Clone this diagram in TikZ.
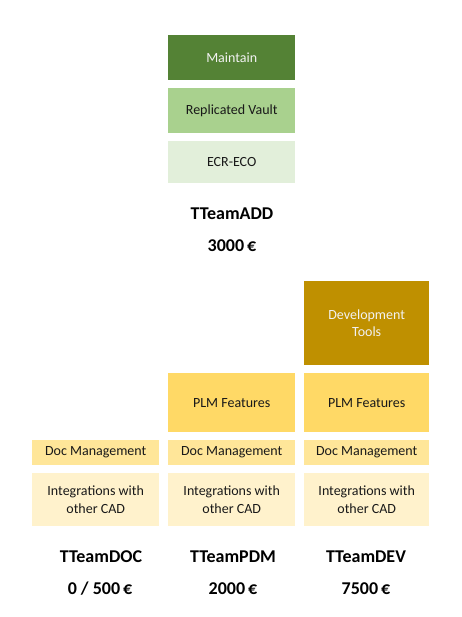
\documentclass[tikz,border=0pt]{standalone}
\usepackage{fontspec}
\setmainfont{Carlito}
\usepackage{xcolor}
\usetikzlibrary{positioning}

\definecolor{darkgreen}{HTML}{548235}
\definecolor{midgreen}{HTML}{A9D18E}
\definecolor{palegreen}{HTML}{E2EFDA}
\definecolor{darkgold}{HTML}{BF9000}
\definecolor{gold}{HTML}{FFD966}
\definecolor{lightgold}{HTML}{FFE699}
\definecolor{palegold}{HTML}{FFF2CC}

\begin{document}
\begin{tikzpicture}[x=1pt,y=-1pt]
\tikzset{
	feature/.style = {anchor = north west, inner sep = 0, minimum width = 127pt, align = center,
		font = \fontsize{14}{17.5}\selectfont, text = black!90},
	dark feature/.style = {feature, text = white!95!black},
	team label/.style = {font = \fontsize{18}{20}\bfseries\selectfont},
}
\useasboundingbox (0,0) rectangle (461,617);

% TTeamADD
\node(maintain)[dark feature, fill = darkgreen, minimum height = 45pt] at (168,35) {Maintain};
\node(vault)[feature, fill = midgreen, minimum height = 45pt] at (168,88) {Replicated Vault};
\node(ecr)[feature, fill = palegreen, minimum height = 42pt] at (168,141) {ECR-ECO};
\node(add)[team label] at (232,214) {TTeamADD};
\node(addprice)[team label] at (232,246) {3000\,€};

% TTeamDOC
\node(doc1)[feature, fill = lightgold, minimum height = 25pt] at (32,440) {Doc Management};
\node(cad1)[feature, fill = palegold, minimum height = 53pt] at (32,473) {Integrations with\\other CAD};
\node(docteam)[team label] at (101,557) {TTeamDOC};
\node(docprice)[team label] at (100,589) {0 / 500\,€};

% TTeamPDM
\node(plm2)[feature, fill = gold, minimum height = 59pt] at (168,373) {PLM Features};
\node(doc2)[feature, fill = lightgold, minimum height = 25pt] at (168,440) {Doc Management};
\node(cad2)[feature, fill = palegold, minimum height = 53pt] at (168,473) {Integrations with\\other CAD};
\node(pdm)[team label] at (233,557) {TTeamPDM};
\node(pdmprice)[team label] at (233,589) {2000\,€};

% TTeamDEV
\node(devtools)[dark feature, fill = darkgold, minimum height = 84pt, minimum width = 125pt] at (304,281) {Development\\Tools};
\node(plm3)[feature, fill = gold, minimum height = 59pt, minimum width = 125pt] at (304,373) {PLM Features};
\node(doc3)[feature, fill = lightgold, minimum height = 25pt, minimum width = 125pt] at (304,440) {Doc Management};
\node(cad3)[feature, fill = palegold, minimum height = 53pt, minimum width = 125pt] at (304,473) {Integrations with\\other CAD};
\node(dev)[team label] at (366,557) {TTeamDEV};
\node(devprice)[team label] at (366,589) {7500\,€};

\end{tikzpicture}
\end{document}
